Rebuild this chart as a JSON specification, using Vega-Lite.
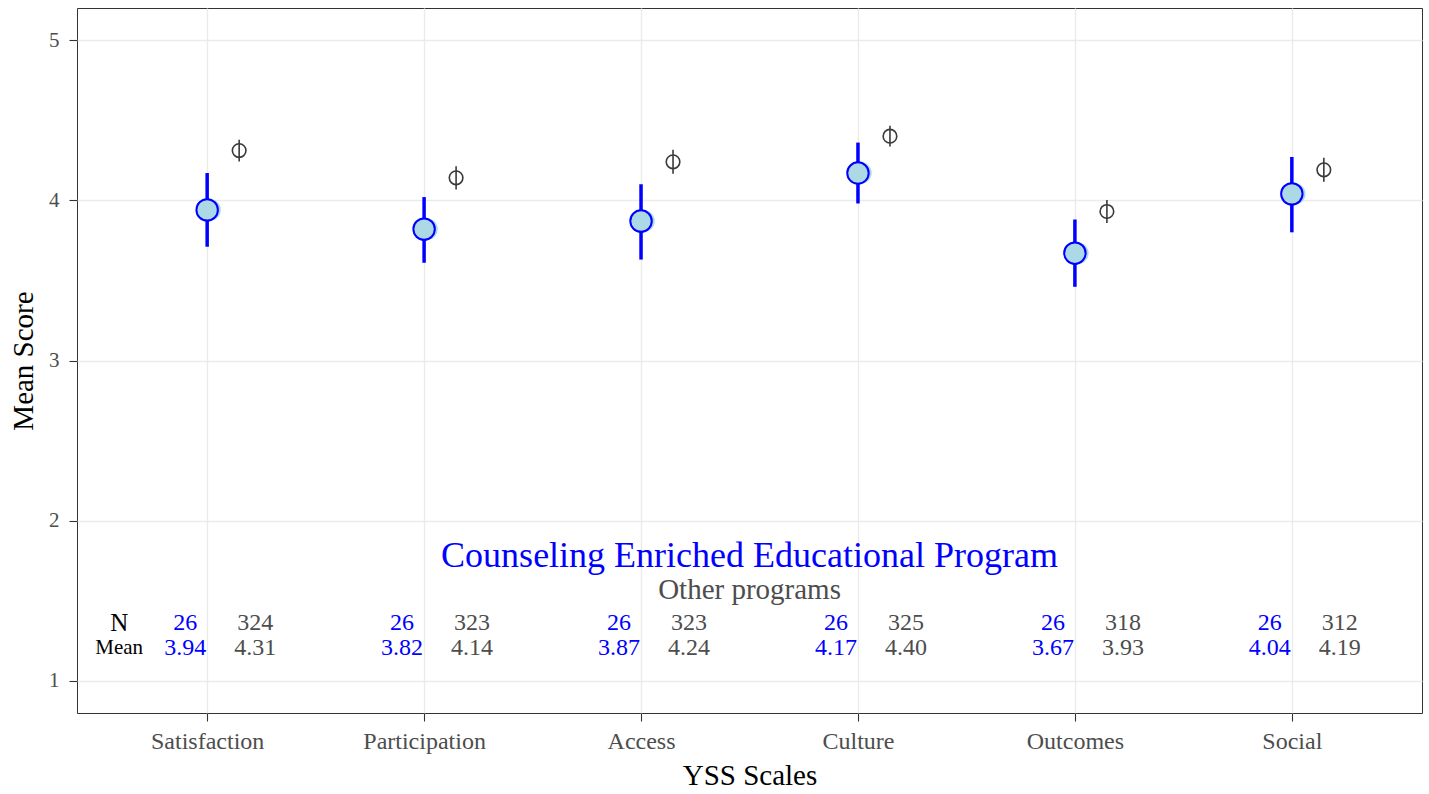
{
  "$schema": "https://vega.github.io/schema/vega-lite/v6.json",
  "width": 1345,
  "height": 705,
  "autosize": {"type": "none"},
  "padding": {"left": 77, "top": 8, "right": 7, "bottom": 81},
  "background": "white",
  "config": {
    "font": "Liberation Serif",
    "view": {"stroke": "#333333", "strokeWidth": 1},
    "axis": {
      "domain": false,
      "gridColor": "#EBEBEB",
      "tickColor": "#333333",
      "tickSize": 8,
      "tickWidth": 1.1,
      "labelColor": "#4D4D4D",
      "labelFont": "Liberation Serif",
      "titleFont": "Liberation Serif",
      "titleFontWeight": "normal",
      "titleColor": "#000000"
    }
  },
  "datasets": {
    "yss": [
      {"scale": "Satisfaction", "group": "CEEP", "mean": 3.94, "lo": 3.71, "hi": 4.17, "n": 26},
      {"scale": "Participation", "group": "CEEP", "mean": 3.82, "lo": 3.61, "hi": 4.02, "n": 26},
      {"scale": "Access", "group": "CEEP", "mean": 3.87, "lo": 3.63, "hi": 4.10, "n": 26},
      {"scale": "Culture", "group": "CEEP", "mean": 4.17, "lo": 3.98, "hi": 4.36, "n": 26},
      {"scale": "Outcomes", "group": "CEEP", "mean": 3.67, "lo": 3.46, "hi": 3.88, "n": 26},
      {"scale": "Social", "group": "CEEP", "mean": 4.04, "lo": 3.80, "hi": 4.27, "n": 26},
      {"scale": "Satisfaction", "group": "Other", "mean": 4.31, "lo": 4.242, "hi": 4.378, "n": 324},
      {"scale": "Participation", "group": "Other", "mean": 4.14, "lo": 4.067, "hi": 4.213, "n": 323},
      {"scale": "Access", "group": "Other", "mean": 4.24, "lo": 4.165, "hi": 4.315, "n": 323},
      {"scale": "Culture", "group": "Other", "mean": 4.40, "lo": 4.335, "hi": 4.465, "n": 325},
      {"scale": "Outcomes", "group": "Other", "mean": 3.93, "lo": 3.858, "hi": 4.002, "n": 318},
      {"scale": "Social", "group": "Other", "mean": 4.19, "lo": 4.115, "hi": 4.265, "n": 312}
    ]
  },
  "data": {"name": "yss"},
  "layer": [
    {
      "transform": [{"filter": "datum.group === 'CEEP'"}],
      "mark": {"type": "rule", "color": "#0000FF", "strokeWidth": 3.5},
      "encoding": {
        "x": {
          "field": "scale",
          "type": "nominal",
          "scale": {
            "type": "point",
            "padding": 0.6,
            "domain": ["Satisfaction", "Participation", "Access", "Culture", "Outcomes", "Social"]
          },
          "axis": {
            "title": "YSS Scales",
            "titleFontSize": 29,
            "titlePadding": 8,
            "labelFontSize": 24,
            "labelPadding": 8,
            "labelAngle": 0,
            "grid": true,
            "gridWidth": 1.4
          }
        },
        "y": {
          "field": "lo",
          "type": "quantitative",
          "scale": {"domain": [0.8, 5.2], "nice": false, "zero": false},
          "axis": {
            "title": "Mean Score",
            "titleFontSize": 29,
            "titlePadding": 10,
            "labelFontSize": 21,
            "labelPadding": 10,
            "format": "d",
            "values": [1, 1.5, 2, 2.5, 3, 3.5, 4, 4.5, 5],
            "labelExpr": "datum.value % 1 === 0 ? format(datum.value, 'd') : ''",
            "tickOpacity": {"condition": {"test": "datum.value % 1 === 0", "value": 1}, "value": 0},
            "gridWidth": {"condition": {"test": "datum.value % 1 === 0", "value": 1.4}, "value": 0.7}
          }
        },
        "y2": {"field": "hi"}
      }
    },
    {
      "transform": [{"filter": "datum.group === 'CEEP'"}],
      "mark": {"type": "point", "shape": "circle", "filled": true, "fill": "#ADD8E6", "opacity": 1, "size": 460, "xOffset": 3, "strokeWidth": 0},
      "encoding": {
        "x": {"field": "scale", "type": "nominal"},
        "y": {"field": "mean", "type": "quantitative"}
      }
    },
    {
      "transform": [{"filter": "datum.group === 'CEEP'"}],
      "mark": {"type": "point", "shape": "circle", "filled": true, "fill": "#ADD8E6", "stroke": "#0000FF", "strokeWidth": 2, "opacity": 1, "size": 460},
      "encoding": {
        "x": {"field": "scale", "type": "nominal"},
        "y": {"field": "mean", "type": "quantitative"}
      }
    },
    {
      "transform": [{"filter": "datum.group === 'Other'"}],
      "mark": {"type": "rule", "color": "#3A3A3A", "strokeWidth": 1.6, "xOffset": 32},
      "encoding": {
        "x": {"field": "scale", "type": "nominal"},
        "y": {"field": "lo", "type": "quantitative"},
        "y2": {"field": "hi"}
      }
    },
    {
      "transform": [{"filter": "datum.group === 'Other'"}],
      "mark": {"type": "point", "shape": "circle", "filled": false, "stroke": "#3A3A3A", "strokeWidth": 1.6, "opacity": 1, "size": 185, "xOffset": 32},
      "encoding": {
        "x": {"field": "scale", "type": "nominal"},
        "y": {"field": "mean", "type": "quantitative"}
      }
    },
    {
      "transform": [{"filter": "datum.group === 'CEEP'"}],
      "mark": {"type": "text", "color": "#0000FF", "fontSize": 24, "align": "center", "baseline": "middle", "dx": -22},
      "encoding": {
        "x": {"field": "scale", "type": "nominal"},
        "y": {"datum": 1.362, "type": "quantitative"},
        "text": {"field": "n", "type": "quantitative"}
      }
    },
    {
      "transform": [{"filter": "datum.group === 'CEEP'"}],
      "mark": {"type": "text", "color": "#0000FF", "fontSize": 24, "align": "center", "baseline": "middle", "dx": -22},
      "encoding": {
        "x": {"field": "scale", "type": "nominal"},
        "y": {"datum": 1.208, "type": "quantitative"},
        "text": {"field": "mean", "type": "quantitative", "format": ".2f"}
      }
    },
    {
      "transform": [{"filter": "datum.group === 'Other'"}],
      "mark": {"type": "text", "color": "#4D4D4D", "fontSize": 24, "align": "center", "baseline": "middle", "dx": 48},
      "encoding": {
        "x": {"field": "scale", "type": "nominal"},
        "y": {"datum": 1.362, "type": "quantitative"},
        "text": {"field": "n", "type": "quantitative"}
      }
    },
    {
      "transform": [{"filter": "datum.group === 'Other'"}],
      "mark": {"type": "text", "color": "#4D4D4D", "fontSize": 24, "align": "center", "baseline": "middle", "dx": 48},
      "encoding": {
        "x": {"field": "scale", "type": "nominal"},
        "y": {"datum": 1.208, "type": "quantitative"},
        "text": {"field": "mean", "type": "quantitative", "format": ".2f"}
      }
    },
    {
      "data": {"values": [{"label": "N"}]},
      "mark": {"type": "text", "color": "#000000", "fontSize": 25, "align": "center", "baseline": "middle", "dx": -88},
      "encoding": {
        "x": {"datum": "Satisfaction", "type": "nominal"},
        "y": {"datum": 1.362, "type": "quantitative"},
        "text": {"field": "label", "type": "nominal"}
      }
    },
    {
      "data": {"values": [{"label": "Mean"}]},
      "mark": {"type": "text", "color": "#000000", "fontSize": 21, "align": "center", "baseline": "middle", "dx": -88},
      "encoding": {
        "x": {"datum": "Satisfaction", "type": "nominal"},
        "y": {"datum": 1.208, "type": "quantitative"},
        "text": {"field": "label", "type": "nominal"}
      }
    },
    {
      "data": {"values": [{"label": "Counseling Enriched Educational Program"}]},
      "mark": {"type": "text", "color": "#0000FF", "fontSize": 36, "align": "center", "baseline": "middle", "dx": 108.5},
      "encoding": {
        "x": {"datum": "Access", "type": "nominal"},
        "y": {"datum": 1.78, "type": "quantitative"},
        "text": {"field": "label", "type": "nominal"}
      }
    },
    {
      "data": {"values": [{"label": "Other programs"}]},
      "mark": {"type": "text", "color": "#4D4D4D", "fontSize": 29, "align": "center", "baseline": "middle", "dx": 108.5},
      "encoding": {
        "x": {"datum": "Access", "type": "nominal"},
        "y": {"datum": 1.57, "type": "quantitative"},
        "text": {"field": "label", "type": "nominal"}
      }
    }
  ]
}
